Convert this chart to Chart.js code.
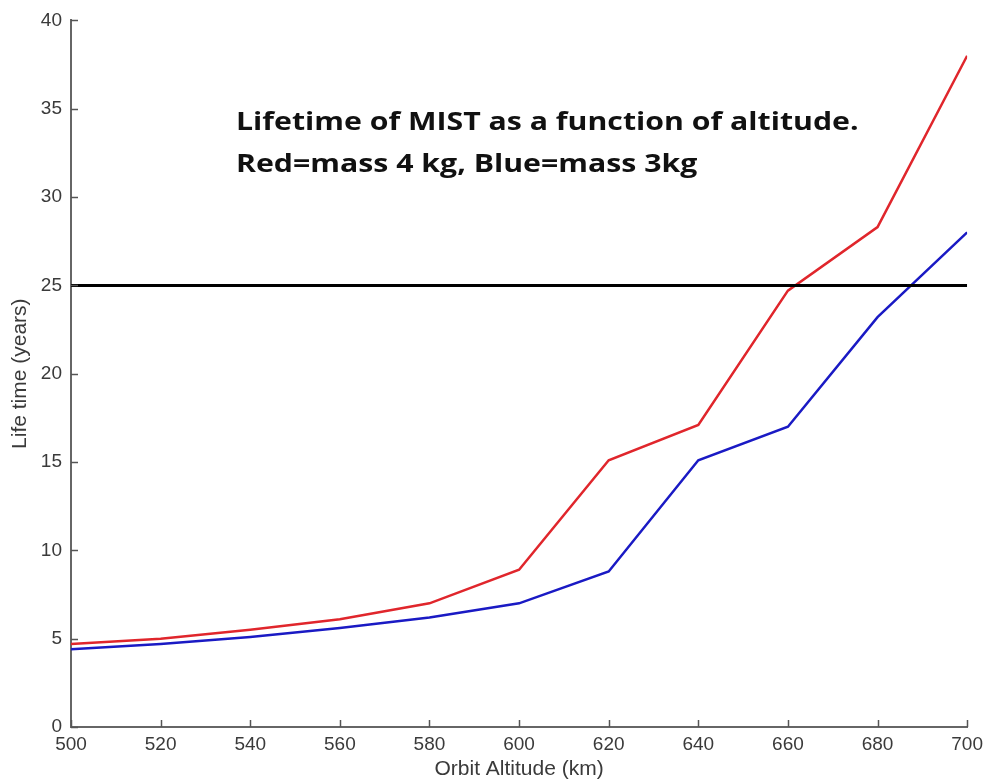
<!DOCTYPE html>
<html>
<head>
<meta charset="utf-8">
<script src="https://cdn.jsdelivr.net/npm/chart.js@4/dist/chart.umd.min.js"></script>
<style>
  html, body { margin: 0; padding: 0; background: #fff; }
  #wrap { width: 989px; height: 782px; }
</style>
</head>
<body>
<div id="wrap"><canvas id="lifeChart" width="989" height="782"></canvas></div>
<script>
// orbit altitude (km)
const altitudes = [500, 520, 540, 560, 580, 600, 620, 640, 660, 680, 700];
// lifetime in years, 4 kg and 3 kg satellite
const lifeRed = [4.7, 5.0, 5.5, 6.1, 7.0, 8.9, 15.1, 17.1, 24.7, 28.3, 38.0];
const lifeBlue = [4.4, 4.7, 5.1, 5.6, 6.2, 7.0, 8.8, 15.1, 17.0, 23.2, 28.0];
const limitYears = 25;
const yTicks = [0, 5, 10, 15, 20, 25, 30, 35, 40];
const xTicks = [500, 520, 540, 560, 580, 600, 620, 640, 660, 680, 700];
const noteLines = ['Lifetime of MIST as a function of altitude.', 'Red=mass 4 kg, Blue=mass 3kg'];

const toPoints = arr => arr.map((v, i) => ({ x: altitudes[i], y: v }));

// ticks drawn into the plot, like the old matlab look
const innerTicks = {
  id: 'innerTicks',
  afterDraw(chart) {
    const c = chart.ctx;
    const xs = chart.scales.x, ys = chart.scales.y;
    c.save();
    c.strokeStyle = '#555';
    c.lineWidth = 1.5;
    xTicks.forEach(t => {
      const px = Math.round(xs.getPixelForValue(t)) + 0.5;
      c.beginPath();
      c.moveTo(px, ys.bottom);
      c.lineTo(px, ys.bottom - 7);
      c.stroke();
    });
    yTicks.forEach(t => {
      const py = Math.round(ys.getPixelForValue(t)) + 0.5;
      c.beginPath();
      c.moveTo(xs.left, py);
      c.lineTo(xs.left + 7, py);
      c.stroke();
    });
    // the note in the upper part of the plot (a bit wide, stretched)
    c.fillStyle = '#111';
    c.font = 'bold 25px "Open Sans", "Noto Sans", sans-serif';
    c.textBaseline = 'alphabetic';
    c.translate(236, 0);
    c.scale(1.21, 1);
    c.fillText(noteLines[0], 0, 130);
    c.fillText(noteLines[1], 0, 172);
    c.restore();
  }
};

const ctx = document.getElementById('lifeChart').getContext('2d');
const lifeChart = new Chart(ctx, {
  type: 'line',
  data: {
    datasets: [
      {
        label: 'limit',
        data: altitudes.map(a => ({ x: a, y: limitYears })),
        borderColor: '#000',
        borderWidth: 3,
        pointRadius: 0
      },
      {
        label: 'mass 4 kg',
        data: toPoints(lifeRed),
        borderColor: '#e0262c',
        borderWidth: 2.5,
        pointRadius: 0
      },
      {
        label: 'mass 3 kg',
        data: toPoints(lifeBlue),
        borderColor: '#1a1ac4',
        borderWidth: 2.5,
        pointRadius: 0
      }
    ]
  },
  plugins: [innerTicks],
  options: {
    responsive: false,
    animation: false,
    layout: { padding: { top: 20, right: 21, left: 0, bottom: 0 } },
    plugins: { legend: { display: false }, tooltip: { enabled: false } },
    scales: {
      x: {
        type: 'linear',
        min: 500,
        max: 700,
        afterBuildTicks: s => { s.ticks = xTicks.map(v => ({ value: v })); },
        afterFit: s => { s.height = 55; },
        border: { color: '#666', width: 2 },
        grid: { display: false, drawTicks: false },
        ticks: { color: '#3a3a3a', font: { family: 'Liberation Sans', size: 19 }, padding: 6, maxRotation: 0 },
        title: { display: true, text: 'Orbit Altitude (km)', color: '#3a3a3a', font: { family: 'Liberation Sans', size: 21 }, padding: { top: 0, bottom: 0 } }
      },
      y: {
        min: 0,
        max: 40,
        afterBuildTicks: s => { s.ticks = yTicks.map(v => ({ value: v })); },
        afterFit: s => { s.width = 71; },
        border: { color: '#666', width: 2 },
        grid: { display: false, drawTicks: false },
        ticks: { color: '#3a3a3a', font: { family: 'Liberation Sans', size: 19 }, padding: 9 },
        title: { display: true, text: 'Life time (years)', color: '#3a3a3a', font: { family: 'Liberation Sans', size: 21 }, padding: { top: 8, bottom: 0 } }
      }
    }
  }
});
</script>
</body>
</html>
